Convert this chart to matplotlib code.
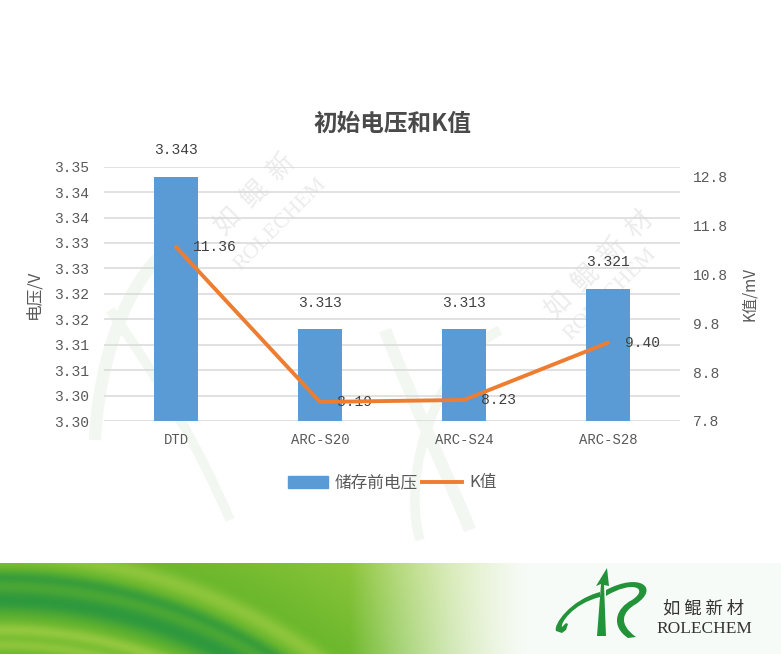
import numpy as np
import matplotlib
matplotlib.use("Agg")
import matplotlib.pyplot as plt
from matplotlib.patches import PathPatch, Rectangle
from matplotlib.path import Path
from matplotlib.lines import Line2D

plt.rcParams['font.family'] = ['Noto Sans CJK SC', 'DejaVu Sans']

# ---------------- data ----------------
categories = ["DTD", "ARC-S20", "ARC-S24", "ARC-S28"]
voltage = [3.343, 3.313, 3.313, 3.321]
k_values = [11.36, 8.19, 8.23, 9.40]
voltage_labels = ["3.343", "3.313", "3.313", "3.321"]
k_labels = ["11.36", "8.19", "8.23", "9.40"]
left_ticks = [3.295, 3.300, 3.305, 3.310, 3.315, 3.320, 3.325, 3.330, 3.335, 3.340, 3.345]
left_tick_labels = ["3.30", "3.30", "3.31", "3.31", "3.32", "3.32", "3.33", "3.33", "3.34", "3.34", "3.35"]
right_ticks = [7.8, 8.8, 9.8, 10.8, 11.8, 12.8]
right_tick_labels = ["7.8", "8.8", "9.8", "10.8", "11.8", "12.8"]
title = "初始电压和K值"
bar_name = "储存前电压"
line_name = "K值"

W, H = 781, 654
BAR_C = "#5B9BD5"
LINE_C = "#ED7D31"
TXT = "#595959"
MONO = ['Liberation Mono', 'DejaVu Sans Mono']

fig = plt.figure(figsize=(W / 100, H / 100), dpi=100)
fig.patch.set_facecolor("white")

def fx(px):
    return px / W

def fy(py):
    return 1 - py / H

# ---------------- bottom banner ----------------
by0, by1 = 563, 654
bh = by1 - by0
bax = fig.add_axes([0, 0, 1, bh / H])
bax.set_axis_off()
xx, yy = np.meshgrid(np.arange(W) + 0.5, np.arange(bh) + 0.5 + by0)
r = np.sqrt((xx - 0) ** 2 + (yy - 1100) ** 2)
mid = np.array([0.42, 0.72, 0.17])
dark = np.array([0.18, 0.60, 0.24])
light = np.array([0.64, 0.81, 0.28])
col = np.ones(xx.shape + (3,)) * mid
def band(center, width):
    return np.exp(-((r - center) / width) ** 2)[..., None]
col = col * (1 - band(500, 14)) + dark * band(500, 14)
col = col * (1 - 0.8 * band(522, 8)) + dark * 0.8 * band(522, 8)
col = col * (1 - 0.7 * band(470, 7)) + light * 0.7 * band(470, 7)
col = col * (1 - 0.6 * band(545, 9)) + light * 0.6 * band(545, 9)
col = col * (1 - 0.6 * band(455, 6)) + light * 0.6 * band(455, 6)
outer = np.clip((r - 560) / 140.0, 0, 1)[..., None]
col = col * (1 - outer) + light * outer
fade = np.clip((530 - xx) / 180.0, 0, 1)[..., None] ** 1.3
img = col * fade + np.array([0.97, 0.985, 0.97]) * (1 - fade)
img = np.clip(img, 0, 1)
bax.imshow(img, extent=[0, W, by1, by0], aspect="auto", interpolation="bilinear")
bax.set_xlim(0, W)
bax.set_ylim(by1, by0)

# logo (stylized R) and watermark
lax = fig.add_axes([0, 0, 1, 1], facecolor="none")
lax.set_axis_off()
lax.set_xlim(0, W)
lax.set_ylim(H, 0)
LOGO_G = "#23933A"
stem = Path([(597, 636), (601, 584), (596, 586), (607, 568), (609, 586), (604, 585), (606, 636), (597, 636)],
            [Path.MOVETO] + [Path.LINETO] * 6 + [Path.CLOSEPOLY])
lax.add_patch(PathPatch(stem, fc=LOGO_G, ec="none", zorder=5))
left_curve = Path([(600, 592), (570, 600), (553, 625), (556, 631), (562, 633), (566, 630), (568, 624),
                   (566, 623), (562, 627), (560, 624), (572, 604), (600, 597), (600, 592)],
                  [Path.MOVETO, Path.CURVE4, Path.CURVE4, Path.CURVE4, Path.LINETO, Path.LINETO, Path.LINETO,
                   Path.LINETO, Path.LINETO, Path.CURVE4, Path.CURVE4, Path.CURVE4, Path.CLOSEPOLY])
lax.add_patch(PathPatch(left_curve, fc=LOGO_G, ec="none", zorder=5))
bowl = Path([(606, 590), (640, 572), (660, 588), (636, 604), (622, 612), (618, 624), (636, 637),
             (628, 638), (610, 626), (616, 608), (632, 600), (650, 588), (632, 580), (606, 596), (606, 590)],
            [Path.MOVETO, Path.CURVE4, Path.CURVE4, Path.CURVE4, Path.CURVE4, Path.CURVE4, Path.CURVE4,
             Path.LINETO, Path.CURVE4, Path.CURVE4, Path.CURVE4, Path.CURVE4, Path.CURVE4, Path.CURVE4, Path.CLOSEPOLY])
lax.add_patch(PathPatch(bowl, fc=LOGO_G, ec="none", zorder=5))
lax.text(704, 609, "如 鲲 新 材", ha="center", va="center", fontsize=12.5, color="#333333", zorder=6)
lax.text(704, 629, "ROLECHEM", ha="center", va="center", fontsize=12.5, color="#333333",
         family=['Liberation Serif', 'DejaVu Serif'], zorder=6)

WM_T = "#ECECEC"
lax.text(255, 195, "如  鲲  新", rotation=45, ha="center", va="center", fontsize=19,
         color=WM_T, zorder=0.5)
lax.text(280, 225, "ROLECHEM", rotation=45, ha="center", va="center", fontsize=16,
         color=WM_T, family=['Liberation Serif'], zorder=0.5)
lax.text(600, 265, "如  鲲  新  材", rotation=45, ha="center", va="center", fontsize=19,
         color=WM_T, zorder=0.5)
lax.text(610, 295, "ROLECHEM", rotation=45, ha="center", va="center", fontsize=16,
         color=WM_T, family=['Liberation Serif'], zorder=0.5)
WM_G = "#F2F8F1"
wm = Path([(95, 440), (100, 330), (150, 240), (190, 245)],
          [Path.MOVETO, Path.CURVE4, Path.CURVE4, Path.CURVE4])
lax.add_patch(PathPatch(wm, fc="none", ec=WM_G, lw=9, zorder=0.4))
wm1 = Path([(110, 310), (160, 380), (200, 450), (230, 520)],
           [Path.MOVETO, Path.CURVE4, Path.CURVE4, Path.CURVE4])
lax.add_patch(PathPatch(wm1, fc="none", ec=WM_G, lw=7, zorder=0.4))
wm2 = Path([(385, 330), (420, 420), (450, 480), (470, 530)],
           [Path.MOVETO, Path.CURVE4, Path.CURVE4, Path.CURVE4])
lax.add_patch(PathPatch(wm2, fc="none", ec=WM_G, lw=9, zorder=0.4))
wm3 = Path([(420, 540), (400, 470), (440, 360), (500, 330)],
           [Path.MOVETO, Path.CURVE4, Path.CURVE4, Path.CURVE4])
lax.add_patch(PathPatch(wm3, fc="none", ec=WM_G, lw=7, zorder=0.4))

# ---------------- main chart ----------------
ax_l, ax_t, ax_r, ax_b = 104, 166.7, 680, 421
ax = fig.add_axes([fx(ax_l), fy(ax_b), fx(ax_r - ax_l), (ax_b - ax_t) / H], facecolor="none")
ax.set_zorder(2)
x = np.arange(len(categories))
ax.bar(x, voltage, width=0.306, color=BAR_C, zorder=3)
ax.set_xlim(-0.5, len(categories) - 0.5)
ax.set_ylim(left_ticks[0], left_ticks[-1])
ax.set_yticks(left_ticks)
ax.set_yticklabels(left_tick_labels, family=MONO, fontsize=10.5, color=TXT)
ax.set_xticks(x)
ax.set_xticklabels(categories, family=MONO, fontsize=10, color=TXT)
ax.tick_params(axis="y", length=0, pad=11)
ax.tick_params(axis="x", length=0, pad=9)
ax.grid(axis="y", color="#D9D9D9", lw=1.1, zorder=0)
ax.set_axisbelow(True)
for s in ax.spines.values():
    s.set_visible(False)
for xi, v, lab in zip(x, voltage, voltage_labels):
    ax.annotate(lab, (xi, v), xytext=(0, 14), textcoords="offset points", ha="center", va="bottom",
                family=MONO, fontsize=10.5, color="#404040")
ax.set_ylabel("电压/V", fontsize=12, color=TXT, labelpad=8)

ax2 = ax.twinx()
ax2.plot(x, k_values, color=LINE_C, lw=2.8, zorder=4, solid_capstyle="round")
ax2.set_ylim(7.8, 13.0)
ax2.set_yticks(right_ticks)
ax2.set_yticklabels(right_tick_labels, family=MONO, fontsize=10.5, color=TXT)
ax2.tick_params(axis="y", length=0, pad=9)
for s in ax2.spines.values():
    s.set_visible(False)
for xi, v, lab in zip(x, k_values, k_labels):
    ax2.annotate(lab, (xi, v), xytext=(12, 0), textcoords="offset points", ha="left", va="center",
                 family=MONO, fontsize=10.5, color="#404040")
ax2.set_ylabel("K值/mV", fontsize=11, color=TXT, labelpad=10)

fig.text(fx(392), fy(124), title, ha="center", va="center", fontsize=17, fontweight="bold", color="#4A4A4A")

handles = [Rectangle((0, 0), 1, 1, color=BAR_C), Line2D([0], [0], color=LINE_C, lw=2.8)]
fig.legend(handles, [bar_name, line_name], loc="center", bbox_to_anchor=(fx(392), fy(483)),
           ncol=2, frameon=False, fontsize=12, labelcolor=TXT, handlelength=2.4, handleheight=0.7,
           columnspacing=0.3, handletextpad=0.4)

fig.savefig("out.png", dpi=100, facecolor="white")
